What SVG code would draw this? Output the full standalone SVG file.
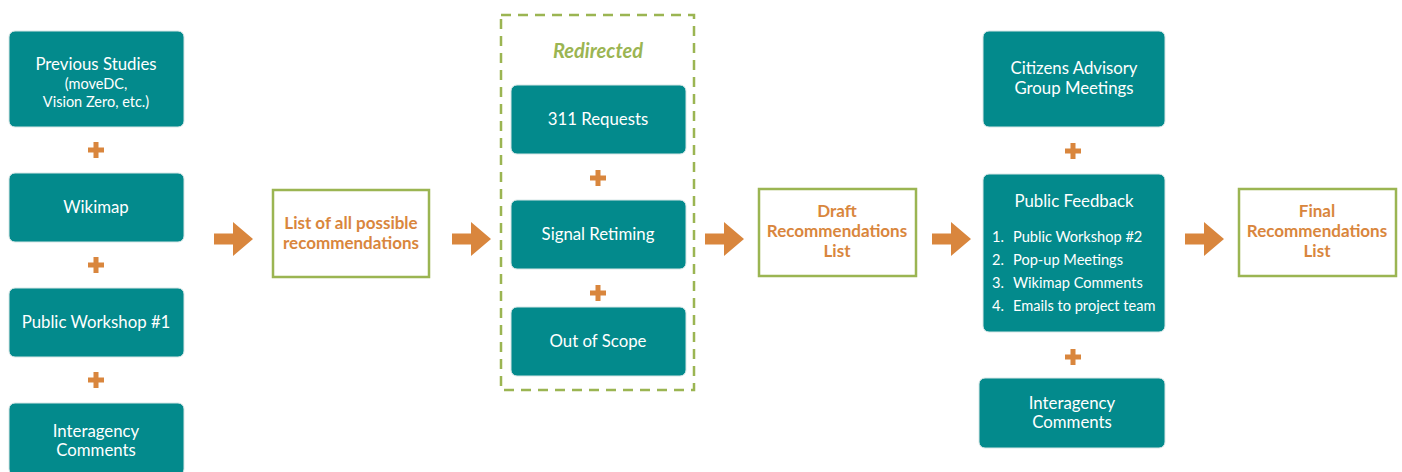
<svg xmlns="http://www.w3.org/2000/svg" width="1402" height="472" viewBox="0 0 1402 472">
<defs>
<style>
.box{fill:#038a8c;stroke:#d7e6e6;stroke-width:1}
.out{fill:#fff;stroke:#9bb552;stroke-width:2.5}
.t{font-family:Lato,"Noto Sans","Liberation Sans",sans-serif;fill:#fff;font-size:16.8px;text-anchor:middle}
.s{font-size:14.5px}
.li{font-family:Lato,"Noto Sans","Liberation Sans",sans-serif;fill:#fff;font-size:14.6px}
.o{font-family:Lato,"Noto Sans","Liberation Sans",sans-serif;fill:#d9863d;font-size:17px;font-weight:bold;text-anchor:middle}
.plus{fill:#d9863d}
.arr{fill:#d9863d}
</style>
<symbol id="p" viewBox="-8 -8 16 16" overflow="visible"><path class="plus" d="M-2.5,-8H2.5V-2.5H8V2.5H2.5V8H-2.5V2.5H-8V-2.5H-2.5Z"/></symbol>
<symbol id="a" viewBox="0 0 39 34" overflow="visible"><path class="arr" d="M0,11.5H19V0L39,17L19,34V22.5H0Z"/></symbol>
</defs>
<rect width="1402" height="472" fill="#fff"/>

<g id="connectors">
<use href="#p" x="88" y="142" width="16" height="16"/>
<use href="#p" x="88" y="257" width="16" height="16"/>
<use href="#p" x="88" y="372" width="16" height="16"/>
<use href="#p" x="590" y="170" width="16" height="16"/>
<use href="#p" x="590" y="285" width="16" height="16"/>
<use href="#p" x="1065" y="143" width="16" height="16"/>
<use href="#p" x="1065" y="349" width="16" height="16"/>
<use href="#a" x="214" y="222" width="39" height="34"/>
<use href="#a" x="452" y="222" width="39" height="34"/>
<use href="#a" x="705" y="222" width="39" height="34"/>
<use href="#a" x="932" y="222" width="39" height="34"/>
<use href="#a" x="1185" y="222" width="39" height="34"/>
</g>

<g id="previous-studies">
<rect class="box" x="9" y="31" width="175" height="96" rx="6"/>
<text class="t" x="96" y="70">Previous Studies</text>
<text class="t s" x="96" y="89">(moveDC,</text>
<text class="t s" x="96" y="107">Vision Zero, etc.)</text>
</g>
<g id="wikimap">
<rect class="box" x="9" y="173" width="175" height="69" rx="6"/>
<text class="t" x="96" y="213">Wikimap</text>
</g>
<g id="public-workshop-1">
<rect class="box" x="9" y="288" width="175" height="69" rx="6"/>
<text class="t" x="96" y="328">Public Workshop #1</text>
</g>
<g id="interagency-left">
<rect class="box" x="9" y="403" width="175" height="72" rx="6"/>
<text class="t" x="96" y="437">Interagency</text>
<text class="t" x="96" y="456">Comments</text>
</g>

<g id="list-all">
<rect class="out" x="273" y="190" width="156" height="87"/>
<text class="o" x="351" y="229">List of all possible</text>
<text class="o" x="351" y="249">recommendations</text>
</g>

<g id="redirected">
<rect x="501" y="15" width="193" height="375" fill="none" stroke="#9bb552" stroke-width="2.5" stroke-dasharray="10,7"/>
<text x="598" y="58" font-family="Lato,'Noto Sans','Liberation Sans',sans-serif" font-size="20" font-weight="bold" font-style="italic" fill="#9bb552" text-anchor="middle">Redirected</text>
</g>
<g id="requests-311">
<rect class="box" x="511" y="85" width="175" height="69" rx="6"/>
<text class="t" x="598" y="125">311 Requests</text>
</g>
<g id="signal-retiming">
<rect class="box" x="511" y="200" width="175" height="69" rx="6"/>
<text class="t" x="598" y="240">Signal Retiming</text>
</g>
<g id="out-of-scope">
<rect class="box" x="511" y="307" width="175" height="69" rx="6"/>
<text class="t" x="598" y="347">Out of Scope</text>
</g>

<g id="draft">
<rect class="out" x="759" y="189" width="157" height="87"/>
<text class="o" x="837" y="217">Draft</text>
<text class="o" x="837" y="237">Recommendations</text>
<text class="o" x="837" y="257">List</text>
</g>

<g id="citizens">
<rect class="box" x="983" y="31" width="182" height="96" rx="6"/>
<text class="t" x="1074" y="74">Citizens Advisory</text>
<text class="t" x="1074" y="94">Group Meetings</text>
</g>
<g id="public-feedback">
<rect class="box" x="983" y="174" width="182" height="158" rx="6"/>
<text class="t" x="1074" y="207">Public Feedback</text>
<text class="li" x="992" y="242">1.</text><text class="li" x="1013" y="242">Public Workshop #2</text>
<text class="li" x="992" y="265">2.</text><text class="li" x="1013" y="265">Pop-up Meetings</text>
<text class="li" x="992" y="288">3.</text><text class="li" x="1013" y="288">Wikimap Comments</text>
<text class="li" x="992" y="311">4.</text><text class="li" x="1013" y="311">Emails to project team</text>
</g>
<g id="interagency-right">
<rect class="box" x="979" y="378" width="186" height="70" rx="6"/>
<text class="t" x="1072" y="409">Interagency</text>
<text class="t" x="1072" y="428">Comments</text>
</g>

<g id="final">
<rect class="out" x="1239" y="189" width="157" height="87"/>
<text class="o" x="1317" y="217">Final</text>
<text class="o" x="1317" y="237">Recommendations</text>
<text class="o" x="1317" y="257">List</text>
</g>
</svg>
